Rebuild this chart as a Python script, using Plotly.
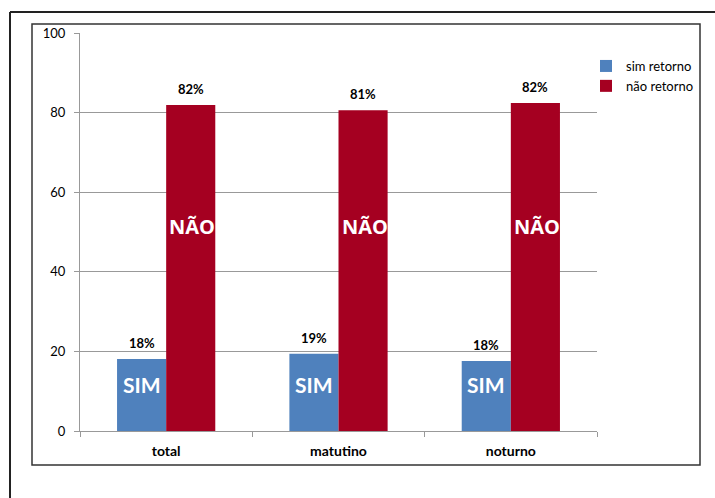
import plotly.graph_objects as go

categories = ["total", "matutino", "noturno"]
sim_values = [18.1, 19.4, 17.6]
nao_values = [81.9, 80.6, 82.4]
sim_labels = ["18%", "19%", "18%"]
nao_labels = ["82%", "81%", "82%"]

W, H = 715, 498
L, R, T, B = 80, 118, 33, 67
PW, PH = W - L - R, H - T - B


def px(xp):
    return (xp - L) / PW


def py(yp):
    return (H - B - yp) / PH


BLUE = "#4F81BD"
RED = "#A50021"
FONT = "Lato, Liberation Sans, sans-serif"

fig = go.Figure()
fig.add_trace(go.Bar(x=categories, y=sim_values, name="sim retorno",
                     marker_color=BLUE, marker_line_width=0))
fig.add_trace(go.Bar(x=categories, y=nao_values, name="não retorno",
                     marker_color=RED, marker_line_width=0))

# bar width in pixels (used to position labels)
bw = PW / 3 * (1 - 0.43) / 2

for c, s, n, sl, nl in zip(categories, sim_values, nao_values, sim_labels, nao_labels):
    fig.add_annotation(x=c, y=s, text=f"<b>{sl}</b>", showarrow=False, xshift=-bw / 2,
                       yanchor="bottom", yshift=6, font=dict(size=13, color="black", family=FONT))
    fig.add_annotation(x=c, y=n, text=f"<b>{nl}</b>", showarrow=False, xshift=bw / 2,
                       yanchor="bottom", yshift=6, font=dict(size=13, color="black", family=FONT))
    fig.add_annotation(x=c, y=11.8, text="<b>SIM</b>", showarrow=False, xshift=-bw / 2,
                       font=dict(size=21, color="white", family=FONT))
    fig.add_annotation(x=c, y=51.5, text="<b>NÃO</b>", showarrow=False, xanchor="left", xshift=1,
                       font=dict(size=20, color="white", family="Open Sans, sans-serif"))

# outer and inner frames
fig.add_shape(type="line", xref="paper", yref="paper", x0=px(10), x1=px(W + 5),
              y0=py(12), y1=py(12), line=dict(color="#222", width=2))
fig.add_shape(type="line", xref="paper", yref="paper", x0=px(10), x1=px(10),
              y0=py(12), y1=py(H + 5), line=dict(color="#222", width=2))
fig.add_shape(type="rect", xref="paper", yref="paper", x0=px(32), x1=px(700),
              y0=py(465), y1=py(24), line=dict(color="#333", width=1.5))

fig.update_layout(
    width=W, height=H,
    margin=dict(l=L, r=R, t=T, b=B),
    barmode="group", bargap=0.43, bargroupgap=0,
    plot_bgcolor="white", paper_bgcolor="white",
    font=dict(family=FONT, size=13, color="black"),
    showlegend=True,
    legend=dict(x=px(586), y=py(51), xanchor="left", yanchor="top",
                font=dict(size=13, family=FONT), itemwidth=30,
                tracegroupgap=2, bgcolor="rgba(0,0,0,0)"),
    xaxis=dict(showline=True, linecolor="#999", linewidth=1, ticks="outside",
               tickson="boundaries", ticklen=5, tickcolor="#999", ticklabelstandoff=7,
               tickfont=dict(size=14, family=FONT), tickprefix="<b>", ticksuffix="</b>"),
    yaxis=dict(range=[0, 100], dtick=20, showline=True, linecolor="#999", linewidth=1,
               ticks="outside", ticklen=5, tickcolor="#999", showgrid=True,
               gridcolor="#999", gridwidth=1, zeroline=False, ticklabelstandoff=6,
               tickfont=dict(size=13, family=FONT)),
)

# drop the browser's default 8px body margin so the figure sits at the page origin
fig.write_html("out.html", config={"displayModeBar": False},
               post_script="document.body.style.margin='0';")
